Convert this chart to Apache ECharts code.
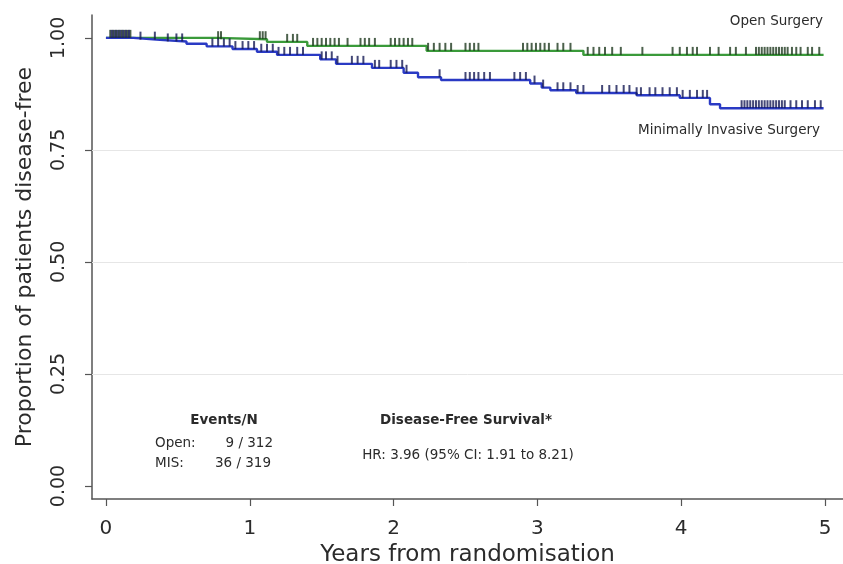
<!DOCTYPE html>
<html><head><meta charset="utf-8">
<script src="https://cdn.jsdelivr.net/npm/echarts@6/dist/echarts.min.js"></script>
<style>html,body{margin:0;padding:0;background:#fff}#c{width:843px;height:564px}</style>
</head><body><div id="c"></div>
<script>
// Kaplan-Meier step data (years, proportion disease-free)
const openTimes = [0, 0.77, 1.12, 1.40, 2.23, 3.32, 4.99];
const openSurv  = [1.0, 0.997, 0.991, 0.982, 0.971, 0.962, 0.962];
const misTimes = [0, 0.19, 0.35, 0.56, 0.70, 0.88, 1.05, 1.19, 1.49, 1.60, 1.85, 2.07, 2.17, 2.33, 2.95, 3.03, 3.09, 3.27, 3.69, 3.99, 4.20, 4.27, 4.99];
const misSurv  = [1.0, 0.996, 0.992, 0.987, 0.981, 0.975, 0.969, 0.962, 0.952, 0.942, 0.933, 0.922, 0.912, 0.906, 0.898, 0.889, 0.883, 0.877, 0.872, 0.866, 0.852, 0.843, 0.843];
// censoring times
const openCensor = [0.03,0.05,0.07,0.09,0.11,0.13,0.15,0.17,0.78,0.80,1.07,1.09,1.11,1.26,1.30,1.33,1.44,1.47,1.50,1.53,1.56,1.59,1.62,1.68,1.77,1.80,1.83,1.87,1.98,2.01,2.04,2.07,2.10,2.13,2.24,2.28,2.32,2.36,2.40,2.50,2.53,2.56,2.59,2.90,2.93,2.96,2.99,3.02,3.05,3.08,3.14,3.18,3.23,3.35,3.39,3.43,3.47,3.52,3.58,3.73,3.94,3.99,4.04,4.08,4.11,4.20,4.26,4.34,4.38,4.45,4.52,4.54,4.56,4.58,4.60,4.62,4.64,4.66,4.68,4.70,4.72,4.74,4.77,4.80,4.83,4.88,4.91,4.96];
const misCensor = [0.04,0.06,0.08,0.10,0.12,0.14,0.16,0.24,0.34,0.43,0.49,0.53,0.74,0.78,0.82,0.86,0.90,0.95,0.99,1.03,1.08,1.12,1.16,1.20,1.24,1.28,1.33,1.37,1.50,1.53,1.57,1.61,1.71,1.75,1.79,1.87,1.90,1.98,2.02,2.06,2.09,2.32,2.50,2.53,2.56,2.59,2.63,2.67,2.84,2.88,2.92,2.98,3.04,3.14,3.18,3.23,3.28,3.32,3.45,3.50,3.55,3.60,3.64,3.69,3.72,3.78,3.82,3.87,3.92,3.97,4.01,4.06,4.11,4.15,4.18,4.42,4.44,4.46,4.48,4.50,4.52,4.54,4.56,4.58,4.60,4.62,4.64,4.66,4.68,4.70,4.72,4.76,4.80,4.84,4.88,4.93,4.97];
const xTicks = [0, 1, 2, 3, 4, 5];
const yTicks = [0, 0.25, 0.5, 0.75, 1.0];
const gridLines = [0.25, 0.5, 0.75];

function kmAt(times, surv, t) {
  let s = surv[0];
  for (let i = 0; i < times.length; i++) { if (times[i] <= t) s = surv[i]; }
  return s;
}
const FONT = 'DejaVu Sans';
const TXT = '#2b2b2b';
const chart = echarts.init(document.getElementById('c'), null, {renderer: 'canvas'});
const tickSym = {symbol: 'rect', symbolSize: [2, 8], symbolOffset: [0, -4]};
chart.setOption({
  animation: false,
  backgroundColor: '#fff',
  grid: {left: 92, right: 0, top: 15, bottom: 65, containLabel: false, outerBoundsMode: 'none'},
  xAxis: {
    type: 'value', min: -0.097, max: 5.125,
    name: 'Years from randomisation', nameLocation: 'middle', nameGap: 40,
    nameTextStyle: {fontFamily: FONT, fontSize: 23, color: TXT},
    axisLine: {onZero: false, lineStyle: {color: '#555', width: 1.5}},
    axisTick: {customValues: xTicks, length: 7, lineStyle: {color: '#555', width: 1.2}},
    axisLabel: {customValues: xTicks, margin: 20, fontFamily: FONT, fontSize: 20, color: TXT},
    splitLine: {show: false}
  },
  yAxis: {
    type: 'value', min: -0.029, max: 1.051,
    name: 'Proportion of patients disease-free', nameLocation: 'middle', nameGap: 56,
    nameTextStyle: {fontFamily: FONT, fontSize: 22, color: TXT},
    axisLine: {show: true, onZero: false, lineStyle: {color: '#555', width: 1.5}},
    axisTick: {show: true, customValues: yTicks, length: 7, lineStyle: {color: '#555', width: 1.2}},
    axisLabel: {customValues: yTicks, rotate: 90, margin: 23, fontFamily: FONT, fontSize: 19, color: TXT,
      formatter: v => v.toFixed(2)},
    splitLine: {show: false}
  },
  series: [
    {
      type: 'line', step: 'end', showSymbol: false, z: 3,
      data: openTimes.map((t, i) => [t, openSurv[i]]),
      lineStyle: {color: '#3a9a3a', width: 2.4},
      markLine: {silent: true, symbol: 'none', label: {show: false},
        lineStyle: {color: '#e6e6e6', width: 1, type: 'solid'},
        data: gridLines.map(v => ({yAxis: v}))}
    },
    {
      type: 'line', step: 'end', showSymbol: false, z: 3,
      data: misTimes.map((t, i) => [t, misSurv[i]]),
      lineStyle: {color: '#2a3ac4', width: 2.4}
    },
    Object.assign({type: 'scatter', z: 4, itemStyle: {color: '#1f3a1f'},
      data: openCensor.map(t => [t, kmAt(openTimes, openSurv, t)])}, tickSym),
    Object.assign({type: 'scatter', z: 4, itemStyle: {color: '#151a55'},
      data: misCensor.map(t => [t, kmAt(misTimes, misSurv, t)])}, tickSym)
  ],
  graphic: [
    {type: 'text', right: 20, top: 14, style: {text: 'Open Surgery', font: '13.5px "DejaVu Sans"', fill: TXT}},
    {type: 'text', right: 23, top: 123, style: {text: 'Minimally Invasive Surgery', font: '13.5px "DejaVu Sans"', fill: TXT}},
    {type: 'text', x: 224, y: 420, style: {text: 'Events/N', font: 'bold 13.5px "DejaVu Sans"', fill: TXT, textAlign: 'center', textVerticalAlign: 'middle'}},
    {type: 'text', x: 155, y: 443, style: {text: 'Open:', font: '13.5px "DejaVu Sans"', fill: TXT, textAlign: 'left', textVerticalAlign: 'middle'}},
    {type: 'text', x: 273, y: 443, style: {text: '9 / 312', font: '13.5px "DejaVu Sans"', fill: TXT, textAlign: 'right', textVerticalAlign: 'middle'}},
    {type: 'text', x: 155, y: 463, style: {text: 'MIS:', font: '13.5px "DejaVu Sans"', fill: TXT, textAlign: 'left', textVerticalAlign: 'middle'}},
    {type: 'text', x: 271, y: 463, style: {text: '36 / 319', font: '13.5px "DejaVu Sans"', fill: TXT, textAlign: 'right', textVerticalAlign: 'middle'}},
    {type: 'text', x: 466, y: 420, style: {text: 'Disease-Free Survival*', font: 'bold 13.5px "DejaVu Sans"', fill: TXT, textAlign: 'center', textVerticalAlign: 'middle'}},
    {type: 'text', x: 468, y: 455, style: {text: 'HR: 3.96 (95% CI: 1.91 to 8.21)', font: '13.5px "DejaVu Sans"', fill: TXT, textAlign: 'center', textVerticalAlign: 'middle'}}
  ]
});
</script></body></html>
